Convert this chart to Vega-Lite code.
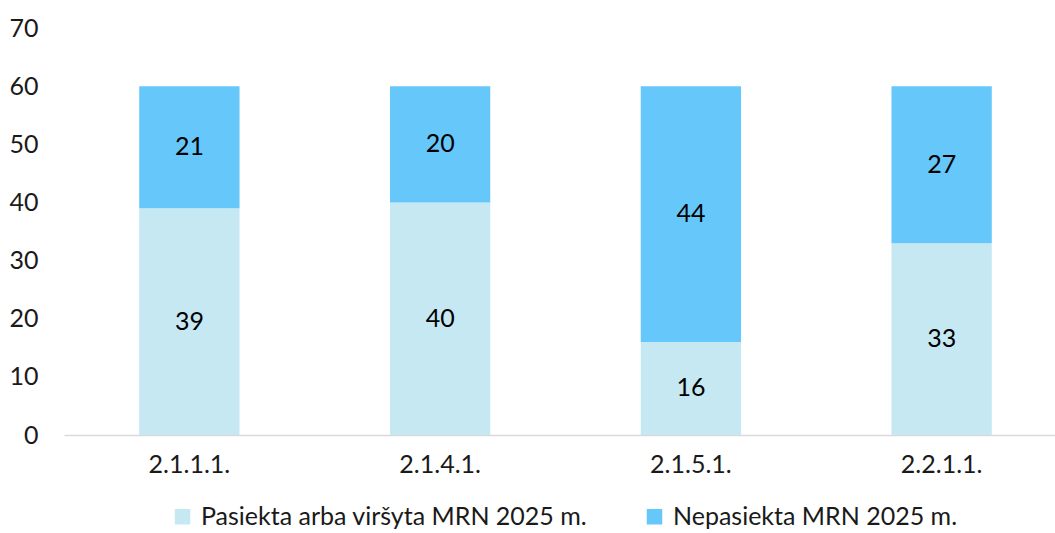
{
  "$schema": "https://vega.github.io/schema/vega-lite/v6.json",
  "width": 1003,
  "height": 407,
  "autosize": {"type": "none"},
  "padding": {"left": 64, "top": 28, "right": 0, "bottom": 98},
  "background": "white",
  "config": {
    "font": "Lato",
    "view": {"stroke": null},
    "axis": {"labelFont": "Lato", "labelFontSize": 25, "labelColor": "#1a1a1a", "ticks": false, "grid": false},
    "legend": {"labelFont": "Lato", "labelFontSize": 25, "labelColor": "#1a1a1a", "labelLimit": 0}
  },
  "data": {"values": [
    {"cat": "2.1.1.1.", "series": "Pasiekta arba viršyta MRN 2025 m.", "idx": 0, "value": 39},
    {"cat": "2.1.1.1.", "series": "Nepasiekta MRN 2025 m.", "idx": 1, "value": 21},
    {"cat": "2.1.4.1.", "series": "Pasiekta arba viršyta MRN 2025 m.", "idx": 0, "value": 40},
    {"cat": "2.1.4.1.", "series": "Nepasiekta MRN 2025 m.", "idx": 1, "value": 20},
    {"cat": "2.1.5.1.", "series": "Pasiekta arba viršyta MRN 2025 m.", "idx": 0, "value": 16},
    {"cat": "2.1.5.1.", "series": "Nepasiekta MRN 2025 m.", "idx": 1, "value": 44},
    {"cat": "2.2.1.1.", "series": "Pasiekta arba viršyta MRN 2025 m.", "idx": 0, "value": 33},
    {"cat": "2.2.1.1.", "series": "Nepasiekta MRN 2025 m.", "idx": 1, "value": 27}
  ]},
  "transform": [
    {"stack": "value", "groupby": ["cat"], "sort": [{"field": "idx", "order": "ascending"}], "as": ["v0", "v1"]},
    {"calculate": "(datum.v0 + datum.v1) / 2", "as": "mid"}
  ],
  "encoding": {
    "x": {"field": "cat", "type": "nominal", "sort": null,
      "scale": {"paddingInner": 0.6, "paddingOuter": 0.3},
      "axis": {"title": null, "labelAngle": 0, "labelPadding": 17, "domainColor": "#d9d9d9", "domainWidth": 1.5}}
  },
  "layer": [
    {
      "mark": {"type": "bar"},
      "encoding": {
        "y": {"field": "v0", "type": "quantitative",
          "scale": {"domain": [0, 70]},
          "axis": {"title": null, "values": [0, 10, 20, 30, 40, 50, 60, 70], "domain": false, "labelPadding": 26}},
        "y2": {"field": "v1"},
        "color": {"field": "series", "type": "nominal",
          "scale": {"domain": ["Pasiekta arba viršyta MRN 2025 m.", "Nepasiekta MRN 2025 m."], "range": ["#c5e8f3", "#66c7fb"]},
          "legend": {"title": null, "orient": "none", "legendX": 106, "legendY": 476, "direction": "horizontal",
            "symbolType": "square", "symbolSize": 240, "symbolStrokeWidth": 0, "columnPadding": 54, "labelOffset": 6}}
      }
    },
    {
      "mark": {"type": "text", "fontSize": 25, "color": "#000000", "font": "Lato"},
      "encoding": {
        "y": {"field": "mid", "type": "quantitative"},
        "text": {"field": "value", "type": "quantitative"}
      }
    }
  ]
}
